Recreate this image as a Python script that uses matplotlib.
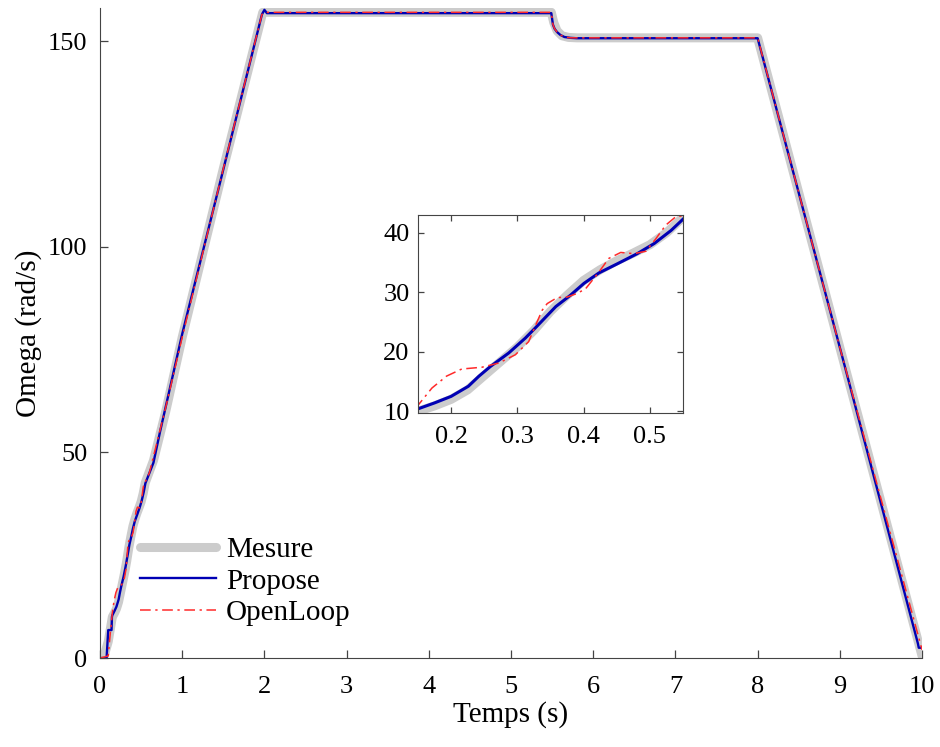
import matplotlib
matplotlib.use("Agg")
import matplotlib.pyplot as plt

# Mesure (measured speed)
t_mes = [0, 0.05, 0.1, 0.15, 0.175, 0.2, 0.225, 0.25, 0.275, 0.3, 0.325, 0.35, 0.375,
         0.4, 0.425, 0.45, 0.475, 0.5, 0.525, 0.55, 0.65, 0.8,
         1.0, 1.5, 1.98, 2.05, 5.49, 5.52, 5.56, 5.62, 5.7, 5.8, 8.0, 9.0, 10.0]
w_mes = [0, 0.5, 4, 10.0, 10.9, 12.0, 13.6, 16.0, 18.4, 20.8, 23.6, 26.8, 29.5,
         32.0, 33.8, 35.3, 36.6, 38.0, 40.0, 42.6, 48, 60,
         78, 119, 157, 157, 157, 154.5, 152.5, 151.3, 150.9, 150.8, 150.8, 75.5, 0.5]

# Propose (proposed observer)
t_pro = [0, 0.08, 0.10, 0.14, 0.145, 0.15, 0.175, 0.2, 0.226, 0.242, 0.259, 0.287,
         0.312, 0.327, 0.358, 0.38, 0.4005, 0.423, 0.451, 0.481, 0.5065, 0.532, 0.552,
         0.65, 0.73, 1.0, 1.5, 1.97, 2.0, 2.03, 2.1, 5.49,
         5.51, 5.53, 5.56, 5.6, 5.65, 5.72, 5.8, 8.0, 9.0, 9.95, 9.96, 10.0]
w_pro = [0, 0, 6.8, 6.8, 10.0, 10.4, 11.4, 12.5, 14.2, 15.9, 17.5, 19.8,
         22.3, 24.0, 27.6, 29.5, 31.5, 33.25, 34.8, 36.5, 38.2, 40.4, 42.5,
         47.5, 55, 78.8, 118.8, 156.5, 157.6, 156.8, 156.8, 156.8,
         154, 153, 152.2, 151.5, 151.0, 150.8, 150.7, 150.7, 75.5, 3.5, 2.5, 2.5]

# OpenLoop
t_ol = [0, 0.1, 0.12, 0.15, 0.171, 0.193, 0.216, 0.2465, 0.2717, 0.297, 0.317, 0.33,
        0.3375, 0.345, 0.36, 0.375, 0.39, 0.403, 0.423, 0.438, 0.456, 0.476, 0.494,
        0.509, 0.524, 0.539, 0.552, 0.6, 0.65, 0.7, 0.8,
        1.0, 1.5, 1.97, 2.0, 2.1, 5.49, 5.51, 5.53, 5.56, 5.6, 5.65, 5.72, 8.0, 9.0, 10.0]
w_ol = [0, 0.5, 5, 11.0, 13.9, 15.9, 17.1, 17.4, 18.1, 19.5, 21.7, 25.1,
        27.0, 28.1, 29.1, 29.2, 29.8, 30.6, 33.4, 35.7, 36.7, 36.5, 36.9,
        39.0, 41.3, 42.7, 42.9, 45, 49, 53, 61,
        78, 119, 156.5, 157, 157, 157, 154, 153, 152.2, 151.5, 151, 150.8, 150.8, 75.5, 2.0]

x_ticks = [0, 1, 2, 3, 4, 5, 6, 7, 8, 9, 10]
y_ticks = [0, 50, 100, 150]
zoom_xticks = [0.2, 0.3, 0.4, 0.5]
zoom_yticks = [10, 20, 30, 40]

plt.rcParams["font.family"] = ["Liberation Serif", "DejaVu Serif"]

gray = "#cccccc"
blue = "#0000b4"
red = "#ff2a2a"
spine_col = "#444444"


def draw_series(ax, lw_blue):
    ax.plot(t_mes, w_mes, color=gray, lw=6.5, solid_capstyle="round",
            solid_joinstyle="round", label="Mesure")
    ax.plot(t_pro, w_pro, color=blue, lw=lw_blue, label="Propose")
    ax.plot(t_ol, w_ol, color=red, lw=1.1, dashes=(7, 3, 1.5, 3), label="OpenLoop")


fig = plt.figure(figsize=(9.4, 7.47), dpi=100)
ax = fig.add_axes([0.1064, 0.1191, 0.8745, 0.8699])
draw_series(ax, 1.7)
ax.set_xlim(0, 10)
ax.set_ylim(0, 158)
ax.set_xticks(x_ticks)
ax.set_yticks(y_ticks)
for s in ["top", "right"]:
    ax.spines[s].set_visible(False)
for s in ["left", "bottom"]:
    ax.spines[s].set_color(spine_col)
ax.tick_params(direction="in", length=6, width=0.9, color=spine_col, labelsize=19)
ax.tick_params(axis="x", pad=13)
ax.tick_params(axis="y", pad=9)
ax.set_xlabel("Temps (s)", fontsize=21, labelpad=2)
ax.set_ylabel("Omega (rad/s)", fontsize=21, labelpad=4)

ax.legend(loc="center left", bbox_to_anchor=(0.0487, 0.118), frameon=False,
          fontsize=21, handlelength=2.6, handletextpad=0.35, labelspacing=0.17,
          borderpad=0, borderaxespad=0)

# zoomed inset
axi = fig.add_axes([0.4447, 0.4471, 0.2819, 0.2651])
draw_series(axi, 2.2)
axi.set_xlim(0.15, 0.55)
axi.set_ylim(9.7, 43)
axi.set_xticks(zoom_xticks)
axi.set_yticks(zoom_yticks)
for s in axi.spines.values():
    s.set_color(spine_col)
axi.tick_params(direction="in", length=4, width=0.9, color=spine_col,
                labelsize=19, right=True, top=True)
axi.tick_params(axis="x", pad=9)
axi.tick_params(axis="y", pad=6)

fig.savefig("out.png", dpi=100)
